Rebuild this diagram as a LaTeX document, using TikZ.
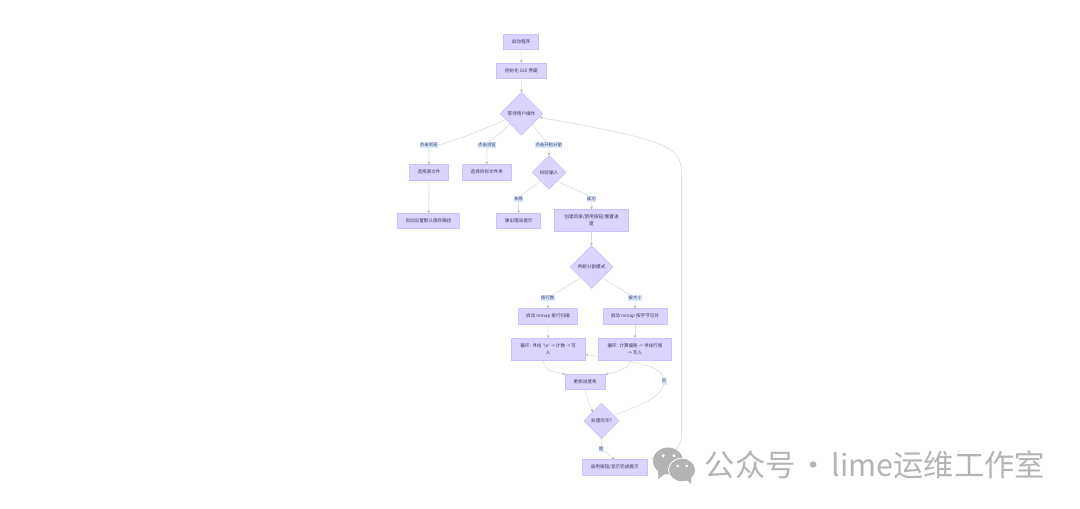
\documentclass[tikz,border=0pt]{standalone}
\usepackage{fontspec}
\setmainfont{Noto Sans CJK SC}
\usetikzlibrary{shapes.geometric,arrows.meta,backgrounds}
\definecolor{nodefill}{HTML}{D9D5FF}
\definecolor{nodeline}{HTML}{C9C2FC}
\definecolor{edgecol}{HTML}{DBDBDF}
\definecolor{tipcol}{HTML}{B0B0B6}
\definecolor{labfill}{HTML}{D8EAFB}
\definecolor{inktext}{HTML}{3A3560}
\definecolor{wmgrey}{HTML}{B4B4B4}
\tikzset{
  x=1pt,y=-1pt,
  base/.style={inner sep=0pt,outer sep=0pt,font=\fontsize{4.6}{7.4}\selectfont,text=inktext,align=center},
  boxn/.style={base,rectangle,draw=nodeline,fill=nodefill,line width=.7pt},
  dia/.style={base,diamond,aspect=1,draw=nodeline,fill=nodefill,line width=.7pt},
  lab/.style={inner sep=.3pt,outer sep=0pt,minimum height=6.4pt,fill=labfill,font=\fontsize{4.4}{5}\selectfont,text=inktext},
  edge/.style={draw=edgecol,line width=.6pt,-{Stealth[length=3pt,width=2.6pt,color=tipcol]}},
  plainedge/.style={draw=edgecol,line width=.6pt},
  wmblob/.style={fill=wmgrey,draw=white,line width=.8pt},
}
\begin{document}
\begin{tikzpicture}
\useasboundingbox (0,0) rectangle (1080,509);
% boxes
\node[boxn,minimum width=35.4pt,minimum height=15.7pt] (start) at (521,41.8) {启动程序};
\node[boxn,minimum width=50pt,minimum height=15.7pt] (gui) at (521.3,70.8) {初始化 GUI 界面};
\node[dia,minimum width=42.4pt,minimum height=42.7pt] (wait) at (521.5,113.7) {等待用户操作};
\node[boxn,minimum width=39.4pt,minimum height=15.7pt] (src) at (429,172.2) {选择源文件};
\node[boxn,minimum width=49pt,minimum height=15.7pt] (dst) at (486.8,172.2) {选择目标文件夹};
\node[dia,minimum width=33.4pt,minimum height=33.4pt] (check) at (549,172.4) {校验输入};
\node[boxn,minimum width=62.4pt,minimum height=15.4pt] (auto) at (428.5,221) {自动设置默认保存路径};
\node[boxn,minimum width=44pt,minimum height=15.4pt] (err) at (518.7,221) {弹出错误提示};
\node[boxn,minimum width=74.4pt,minimum height=22.4pt] (mk) at (591.5,220.5) {创建目录/禁用按钮/重置进\\度};
\node[dia,minimum width=42.7pt,minimum height=42.7pt] (mode) at (591.6,267) {判断分割模式};
\node[boxn,minimum width=59.4pt,minimum height=16pt] (ml) at (548,316.3) {启动 mmap 按行扫描};
\node[boxn,minimum width=64pt,minimum height=16pt] (mb) at (635,316.3) {启动 mmap 按字节切片};
\node[boxn,minimum width=73.7pt,minimum height=22.3pt] (ll) at (548.2,349.2) {循环: 寻找 \textquotesingle\textbackslash n\textquotesingle{} -> 计数 -> 写\\入};
\node[boxn,minimum width=73.4pt,minimum height=22.3pt] (lb) at (635,349.2) {循环: 计算偏移 -> 寻找行尾\\-> 写入};
\node[boxn,minimum width=39.7pt,minimum height=15.4pt] (prog) at (585.2,382) {更新进度条};
\node[dia,minimum width=35pt,minimum height=35pt] (done) at (601.5,420.8) {处理完毕?};
\node[boxn,minimum width=64.7pt,minimum height=15.7pt] (fin) at (614.7,467.2) {启用按钮/显示完成提示};
% edge labels
\node[lab] (l1) at (428.7,145) {点击浏览};
\node[lab] (l2) at (487,145) {点击浏览};
\node[lab] (l3) at (548.7,145) {点击开始分割};
\node[lab] (l4) at (518.7,199) {失败};
\node[lab] (l5) at (591.3,199) {成功};
\node[lab] (l6) at (547.7,298) {按行数};
\node[lab] (l7) at (635.3,298) {按大小};
\node[lab] (l8) at (664,381.3) {否};
\node[lab] (l9) at (601,448.7) {是};
\coordinate (c1) at (681.5,172);
\coordinate (c2) at (681.5,436);
\coordinate (backin) at (540,117.4);
\coordinate (loopin) at (585.3,354.6);
\begin{scope}[on background layer]
\draw[edge] (start) -- (gui);
\draw[edge] (gui) -- (wait);
\draw[plainedge] (wait.200) .. controls (470,136) and (429,150) .. (l1.center);
\draw[edge] (l1.center) .. controls (429,152) and (428.7,158) .. (src.north);
\draw[plainedge] (wait.221) .. controls (495,139) and (487.5,141) .. (l2.center);
\draw[edge] (l2.center) -- (dst.north);
\draw[plainedge] (wait.south east) -- (l3.center);
\draw[edge] (l3.center) -- (check.north);
\draw[edge] (src) -- (auto);
\draw[plainedge] (check.south west) .. controls (530,190) and (520,194) .. (l4.center);
\draw[edge] (l4.center) -- (err.north);
\draw[plainedge] (check.south east) .. controls (575,191) and (590,194) .. (l5.center);
\draw[edge] (l5.center) -- (mk.north);
\draw[edge] (mk) -- (mode);
\draw[plainedge] (mode.south west) -- (l6.center);
\draw[edge] (l6.center) -- (ml.north);
\draw[plainedge] (mode.south east) -- (l7.center);
\draw[edge] (l7.center) -- (mb.north);
\draw[edge] (ml) -- (ll);
\draw[edge] (mb) -- (lb);
\draw[edge] (ll.south) ++(-5,0) .. controls (544,372) and (556,372) .. (prog.north west);
\draw[edge] (lb.south) ++(-4,0) .. controls (629,369) and (616,372) .. (prog.north east);
\draw[edge] (prog.south) .. controls (586,397) and (589,403) .. (done.north west);
\draw[plainedge] (done.24) .. controls (640,405) and (664,397) .. (l8.center);
\draw[edge] (l8.center) .. controls (664,366) and (640,362) .. (loopin);
\draw[plainedge] (done.south) -- (l9.center);
\draw[edge] (l9.center) -- (fin.north);
\draw[edge] (fin.north east) .. controls (668,457) and (681.5,450) .. (c2) -- (c1) .. controls (681.5,145) and (660,139) .. (backin);
\end{scope}
% watermark
\fill[wmgrey] (668,461) ellipse (15pt and 13.5pt);
\fill[wmgrey] (658,471) -- (658.5,479) -- (666,473) -- cycle;
\fill[white] (663.3,455.7) circle (1.6pt) (674,455.7) circle (1.6pt);
\fill[wmblob] (682,470) ellipse (13.5pt and 11.8pt);
\fill[wmgrey] (685,478) -- (691,484) -- (691,476) -- cycle;
\fill[white] (677.7,466) circle (1.4pt) (686.7,466) circle (1.4pt);
\node[inner sep=0pt,text=wmgrey,font=\fontsize{30.3}{32}\selectfont,anchor=west] (wm) at (704.5,465) {公众号\hspace{3pt}·\hspace{3pt}lime运维工作室};
\end{tikzpicture}
\end{document}
